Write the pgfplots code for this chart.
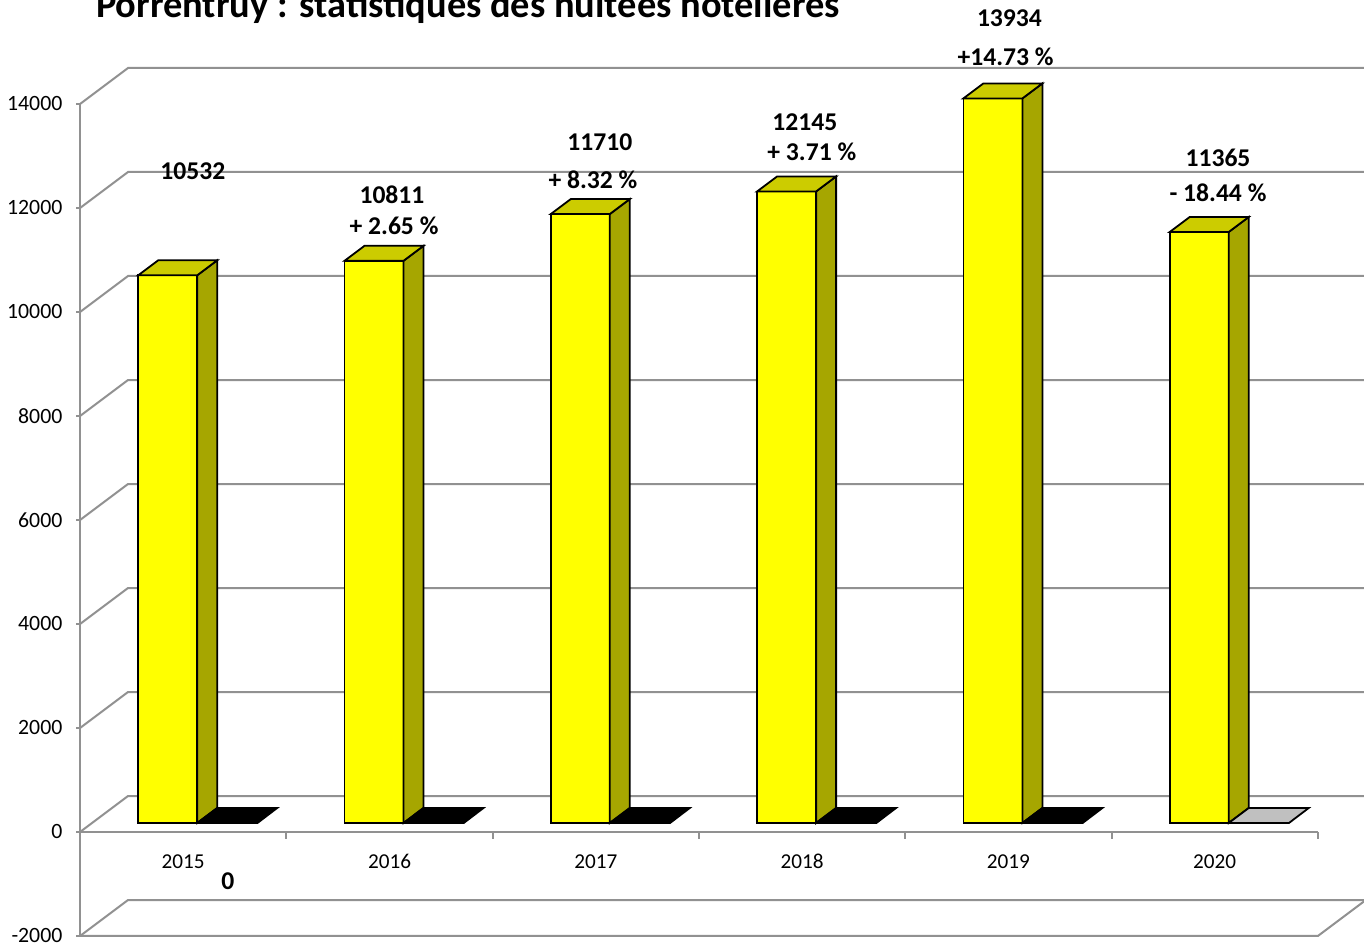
\documentclass[border=0pt]{standalone}
\usepackage{pgfplots}
\pgfplotsset{compat=1.18}
\usepackage{fontspec}
\setmainfont{Carlito}
\definecolor{gridc}{RGB}{145,145,145}
\definecolor{barfront}{RGB}{255,255,0}
\definecolor{bartop}{RGB}{204,204,0}
\definecolor{barside}{RGB}{166,166,0}
\definecolor{flatgrey}{RGB}{192,192,192}
\begin{document}
\begin{tikzpicture}
\begin{axis}[
  x=103.15pt, y=0.026pt,
  xmin=-0.5, xmax=5.5, ymin=-2000, ymax=14000,
  axis x line*=middle, axis y line*=left,
  axis line style={draw=gridc, line width=1pt, -},
  clip=false,
  scaled y ticks=false,
  xtick={0,1,2,3,4,5},
  xticklabels={2015,2016,2017,2018,2019,2020},
  major x tick style={draw=none},
  minor xtick={-0.5,0.5,1.5,2.5,3.5,4.5,5.5},
  minor x tick style={draw=gridc, line width=1pt},
  minor tick length=3.5pt,
  xtick align=outside,
  ytick={-2000,0,2000,4000,6000,8000,10000,12000,14000},
  yticklabels={-2000,0,2000,4000,6000,8000,10000,12000,14000},
  y tick style={draw=gridc, line width=1pt},
  major tick length=2pt,
  ytick align=outside,
  tick label style={text=black},
  yticklabel style={xshift=-3.3pt, font=\fontsize{10.9}{12}\selectfont},
  xticklabel style={anchor=north, text height=7pt, text depth=0pt, yshift=-5.5pt, font=\fontsize{10.6}{12}\selectfont},
]
% ---- walls / gridlines ----
\addplot[draw=gridc, line width=1pt] coordinates {(-0.5,-2000) (-0.2673,-1308) (5.7327,-1308)};
\addplot[draw=gridc, line width=1pt] coordinates {(-0.5,0) (-0.2673,692) (5.7327,692)};
\addplot[draw=gridc, line width=1pt] coordinates {(-0.5,2000) (-0.2673,2692) (5.7327,2692)};
\addplot[draw=gridc, line width=1pt] coordinates {(-0.5,4000) (-0.2673,4692) (5.7327,4692)};
\addplot[draw=gridc, line width=1pt] coordinates {(-0.5,6000) (-0.2673,6692) (5.7327,6692)};
\addplot[draw=gridc, line width=1pt] coordinates {(-0.5,8000) (-0.2673,8692) (5.7327,8692)};
\addplot[draw=gridc, line width=1pt] coordinates {(-0.5,10000) (-0.2673,10692) (5.7327,10692)};
\addplot[draw=gridc, line width=1pt] coordinates {(-0.5,12000) (-0.2673,12692) (5.7327,12692)};
\addplot[draw=gridc, line width=1pt] coordinates {(-0.5,14000) (-0.2673,14692) (5.7327,14692)};
\addplot[draw=gridc, line width=1pt] coordinates {(-0.5,-2000) (5.5,-2000) (5.7327,-1308)};
% ---- bars: value v, front top = 173+v, back top = 461.5+v ----
% 2015: 10532
\addplot[fill=barfront, draw=black, line width=0.9pt] coordinates {(-0.2181,173) (0.0679,173) (0.0679,10705) (-0.2181,10705)} -- cycle;
\addplot[fill=barside, draw=black, line width=0.9pt] coordinates {(0.0679,173) (0.1648,461.5) (0.1648,10993.5) (0.0679,10705)} -- cycle;
\addplot[fill=bartop, draw=black, line width=0.9pt] coordinates {(-0.2181,10705) (0.0679,10705) (0.1648,10993.5) (-0.1212,10993.5)} -- cycle;
\addplot[fill=black, draw=black, line width=0.9pt] coordinates {(0.0679,173) (0.3600,173) (0.4556,461.5) (0.1648,461.5)} -- cycle;
% 2016: 10811
\addplot[fill=barfront, draw=black, line width=0.9pt] coordinates {(0.7819,173) (1.0679,173) (1.0679,10984) (0.7819,10984)} -- cycle;
\addplot[fill=barside, draw=black, line width=0.9pt] coordinates {(1.0679,173) (1.1648,461.5) (1.1648,11272.5) (1.0679,10984)} -- cycle;
\addplot[fill=bartop, draw=black, line width=0.9pt] coordinates {(0.7819,10984) (1.0679,10984) (1.1648,11272.5) (0.8788,11272.5)} -- cycle;
\addplot[fill=black, draw=black, line width=0.9pt] coordinates {(1.0679,173) (1.3600,173) (1.4556,461.5) (1.1648,461.5)} -- cycle;
% 2017: 11710
\addplot[fill=barfront, draw=black, line width=0.9pt] coordinates {(1.7819,173) (2.0679,173) (2.0679,11883) (1.7819,11883)} -- cycle;
\addplot[fill=barside, draw=black, line width=0.9pt] coordinates {(2.0679,173) (2.1648,461.5) (2.1648,12171.5) (2.0679,11883)} -- cycle;
\addplot[fill=bartop, draw=black, line width=0.9pt] coordinates {(1.7819,11883) (2.0679,11883) (2.1648,12171.5) (1.8788,12171.5)} -- cycle;
\addplot[fill=black, draw=black, line width=0.9pt] coordinates {(2.0679,173) (2.3600,173) (2.4556,461.5) (2.1648,461.5)} -- cycle;
% 2018: 12145
\addplot[fill=barfront, draw=black, line width=0.9pt] coordinates {(2.7819,173) (3.0679,173) (3.0679,12318) (2.7819,12318)} -- cycle;
\addplot[fill=barside, draw=black, line width=0.9pt] coordinates {(3.0679,173) (3.1648,461.5) (3.1648,12606.5) (3.0679,12318)} -- cycle;
\addplot[fill=bartop, draw=black, line width=0.9pt] coordinates {(2.7819,12318) (3.0679,12318) (3.1648,12606.5) (2.8788,12606.5)} -- cycle;
\addplot[fill=black, draw=black, line width=0.9pt] coordinates {(3.0679,173) (3.3600,173) (3.4556,461.5) (3.1648,461.5)} -- cycle;
% 2019: 13934
\addplot[fill=barfront, draw=black, line width=0.9pt] coordinates {(3.7819,173) (4.0679,173) (4.0679,14107) (3.7819,14107)} -- cycle;
\addplot[fill=barside, draw=black, line width=0.9pt] coordinates {(4.0679,173) (4.1648,461.5) (4.1648,14395.5) (4.0679,14107)} -- cycle;
\addplot[fill=bartop, draw=black, line width=0.9pt] coordinates {(3.7819,14107) (4.0679,14107) (4.1648,14395.5) (3.8788,14395.5)} -- cycle;
\addplot[fill=black, draw=black, line width=0.9pt] coordinates {(4.0679,173) (4.3600,173) (4.4556,461.5) (4.1648,461.5)} -- cycle;
% 2020: 11365
\addplot[fill=barfront, draw=black, line width=0.9pt] coordinates {(4.7819,173) (5.0679,173) (5.0679,11538) (4.7819,11538)} -- cycle;
\addplot[fill=barside, draw=black, line width=0.9pt] coordinates {(5.0679,173) (5.1648,461.5) (5.1648,11826.5) (5.0679,11538)} -- cycle;
\addplot[fill=bartop, draw=black, line width=0.9pt] coordinates {(4.7819,11538) (5.0679,11538) (5.1648,11826.5) (4.8788,11826.5)} -- cycle;
\addplot[fill=flatgrey, draw=black, line width=0.9pt] coordinates {(5.0679,173) (5.3600,173) (5.4556,461.5) (5.1648,461.5)} -- cycle;
% ---- labels ----
\tikzset{lab/.style={font=\bfseries\fontsize{12.8}{15}\selectfont, inner sep=0pt}}
\node[lab] at (axis cs:0.047,12712) {10532};
\node[lab] at (axis cs:0.217,-942) {0};
\node[lab] at (axis cs:1.012,12250) {10811};
\node[lab] at (axis cs:1.022,11654) {+ 2.65 \%};
\node[lab] at (axis cs:2.020,13269) {11710};
\node[lab] at (axis cs:1.986,12538) {+ 8.32 \%};
\node[lab] at (axis cs:3.013,13654) {12145};
\node[lab] at (axis cs:3.047,13077) {+ 3.71 \%};
\node[lab] at (axis cs:4.005,15654) {13934};
\node[lab] at (axis cs:3.986,14904) {+14.73 \%};
\node[lab] at (axis cs:5.016,12962) {11365};
\node[lab] at (axis cs:5.016,12288) {- 18.44 \%};
\node[anchor=base, font=\bfseries\fontsize{19.2}{22}\selectfont, inner sep=0pt] at (axis cs:1.3805,15660) {Porrentruy : statistiques des nuitées hôtelières};
\coordinate (bbll) at (axis cs:-0.88803,-2288.46);
\coordinate (bbur) at (axis cs:5.72370,16000);
\end{axis}
\pgfresetboundingbox
\useasboundingbox (bbll) rectangle (bbur);
\end{tikzpicture}
\end{document}
